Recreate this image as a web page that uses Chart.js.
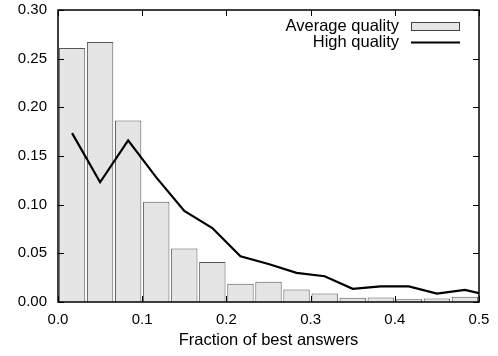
<!DOCTYPE html>
<html>
<head>
<meta charset="utf-8">
<script src="https://cdn.jsdelivr.net/npm/chart.js@4/dist/chart.umd.min.js"></script>
<style>
html,body{margin:0;padding:0;background:#fff;}
#wrap{width:498px;height:356px;}
</style>
</head>
<body>
<div id="wrap"><canvas id="c" width="498" height="356"></canvas></div>
<script>
// Bin centres (fraction of best answers)
const binCenters = [0.0167,0.05,0.0833,0.1167,0.15,0.1833,0.2167,0.25,0.2833,0.3167,0.35,0.3833,0.4167,0.45,0.4833];
// Average quality histogram values
const averageQuality = [0.261,0.267,0.1865,0.103,0.055,0.041,0.0187,0.0207,0.0128,0.0087,0.0043,0.0046,0.0029,0.0036,0.0053];
// High quality line values (last point at the right border)
const highX = [0.0167,0.05,0.0833,0.1167,0.15,0.1833,0.2167,0.25,0.2833,0.3167,0.35,0.3833,0.4167,0.45,0.4833,0.5];
const highQuality = [0.1735,0.123,0.166,0.128,0.0935,0.076,0.047,0.039,0.030,0.0265,0.0135,0.016,0.016,0.0087,0.0125,0.009];
const xTicks = [0.0,0.1,0.2,0.3,0.4,0.5];
const yTicks = [0.00,0.05,0.10,0.15,0.20,0.25,0.30];
const seriesLabels = ['Average quality','High quality'];

const FONT = 'Liberation Sans, Arial, Helvetica, sans-serif';

const framePlugin = {
  id:'frame',
  afterDatasetsDraw(chart){
    const {ctx, chartArea:a, scales:{x,y}} = chart;
    ctx.save();
    ctx.strokeStyle='#000';
    ctx.lineWidth=1;
    const tl=6;
    ctx.beginPath();
    xTicks.forEach(v=>{
      const px=Math.round(x.getPixelForValue(v))+0.5;
      ctx.moveTo(px,a.bottom); ctx.lineTo(px,a.bottom-tl);
      ctx.moveTo(px,a.top); ctx.lineTo(px,a.top+tl);
    });
    yTicks.forEach(v=>{
      const py=Math.round(y.getPixelForValue(v))+0.5;
      ctx.moveTo(a.left,py); ctx.lineTo(a.left+tl,py);
      ctx.moveTo(a.right,py); ctx.lineTo(a.right-tl,py);
    });
    ctx.stroke();
    ctx.lineWidth=1.5;
    ctx.strokeRect(a.left,a.top,a.right-a.left,a.bottom-a.top);
    // legend (gnuplot style: text right-aligned, sample to the right)
    ctx.font='16.5px '+FONT;
    ctx.fillStyle='#000';
    ctx.textAlign='right';
    ctx.textBaseline='middle';
    const tx=a.right-80, sx0=a.right-68, sx1=a.right-20;
    const r1=a.top+16, r2=a.top+32.5;
    ctx.fillText(chart.data.datasets[0].label, tx, r1);
    ctx.fillText(chart.data.datasets[1].label, tx, r2);
    ctx.fillStyle='#e5e5e5';
    ctx.fillRect(sx0, r1-4, sx1-sx0, 8);
    ctx.strokeStyle='#444';
    ctx.lineWidth=1;
    ctx.strokeRect(sx0+0.5, r1-3.5, sx1-sx0, 8);
    ctx.strokeStyle='#000';
    ctx.lineWidth=2.2;
    ctx.beginPath(); ctx.moveTo(sx0,r2); ctx.lineTo(sx1+1,r2); ctx.stroke();
    ctx.restore();
  }
};

new Chart(document.getElementById('c'),{
  type:'bar',
  data:{
    datasets:[
      {
        type:'bar',
        label:seriesLabels[0],
        data:binCenters.map((c,i)=>({x:c,y:averageQuality[i]})),
        backgroundColor:'#e5e5e5',
        borderColor:'#555',
        borderWidth:1,
        barPercentage:0.94,
        categoryPercentage:1.0,
        order:2
      },
      {
        type:'line',
        label:seriesLabels[1],
        data:highX.map((c,i)=>({x:c,y:highQuality[i]})),
        borderColor:'#000',
        borderWidth:2.2,
        pointRadius:0,
        tension:0,
        fill:false,
        order:1
      }
    ]
  },
  options:{
    responsive:false,
    animation:false,
    layout:{padding:{top:10,right:19,left:0,bottom:0}},
    plugins:{legend:{display:false},tooltip:{enabled:false}},
    scales:{
      x:{
        type:'linear', min:0, max:0.5, offset:false,
        grid:{display:false,drawTicks:false}, border:{display:false},
        afterBuildTicks(s){ s.ticks = xTicks.map(v=>({value:v})); },
        afterFit(s){ s.height=54; s.paddingLeft=0; s.paddingRight=0; },
        ticks:{color:'#000',font:{size:15,family:FONT},padding:9,maxRotation:0,
          callback:(v)=>Number(v).toFixed(1)},
        title:{display:true,text:'Fraction of best answers',color:'#000',
          font:{size:16.5,family:FONT},padding:{top:0,bottom:6}}
      },
      y:{
        type:'linear', min:0, max:0.3,
        grid:{display:false,drawTicks:false}, border:{display:false},
        afterBuildTicks(s){ s.ticks = yTicks.map(v=>({value:v})); },
        afterFit(s){ s.width=58; s.paddingTop=0; s.paddingBottom=0; },
        ticks:{color:'#000',font:{size:15,family:FONT},padding:11,
          callback:(v)=>Number(v).toFixed(2)}
      }
    }
  },
  plugins:[framePlugin]
});
</script>
</body>
</html>
